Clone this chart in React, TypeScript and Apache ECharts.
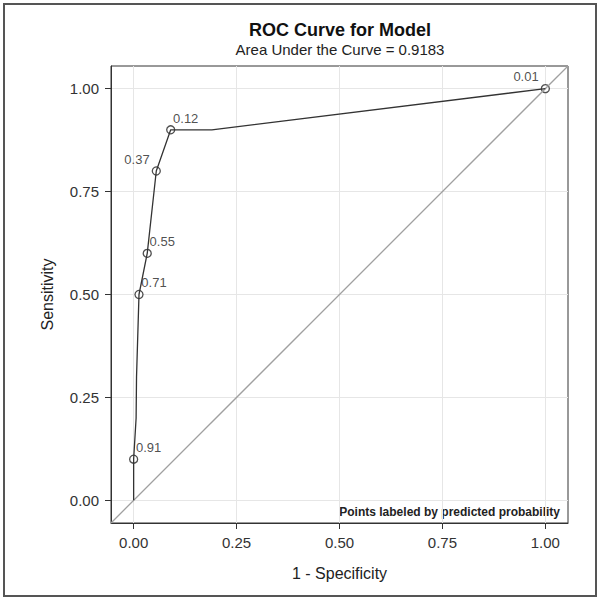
import React, { useEffect, useRef } from "react";
import * as echarts from "echarts";

// ROC curve points (1 - specificity, sensitivity)
const fpr = [0, 0, 0.006, 0.007, 0.013, 0.033, 0.055, 0.09, 0.19, 1.0];
const tpr = [0, 0.1, 0.2, 0.3, 0.5, 0.6, 0.8, 0.9, 0.9, 1.0];

// labeled points (predicted probability cut-offs)
const labelProb = ["0.91", "0.71", "0.55", "0.37", "0.12", "0.01"];
const labelFpr = [0, 0.013, 0.033, 0.055, 0.09, 1.0];
const labelTpr = [0.1, 0.5, 0.6, 0.8, 0.9, 1.0];
const labelLeftSide = [false, false, false, true, false, true];

const tickValues = [0, 0.25, 0.5, 0.75, 1.0];
const axisMin = -0.055;
const axisMax = 1.055;

const titleText = "ROC Curve for Model";
const subtitleText = "Area Under the Curve = 0.9183";
const footnoteText = "Points labeled by predicted probability";
const xName = "1 - Specificity";
const yName = "Sensitivity";

const FONT = "'Liberation Sans', Arial, Helvetica, sans-serif";

export default function App() {
  const ref = useRef<HTMLDivElement>(null);

  useEffect(() => {
    if (!ref.current) return;
    const chart = echarts.init(ref.current, undefined, { renderer: "svg" });

    const curve = fpr.map((x, i) => [x, tpr[i]]);
    const labeled = labelProb.map((p, i) => ({
      value: [labelFpr[i], labelTpr[i]],
      name: p,
      label: labelLeftSide[i]
        ? { position: [-2, -7], align: "right" }
        : { position: [7, -7], align: "left" },
    }));

    const axisCommon = (name: string) => ({
      type: "value",
      min: axisMin,
      max: axisMax,
      name,
      nameLocation: "middle",
      nameTextStyle: { fontFamily: FONT, fontSize: 16, color: "#222" },
      axisLine: { show: true, onZero: false, lineStyle: { color: "#333", width: 1 } },
      axisTick: {
        show: true,
        length: 6,
        customValues: tickValues,
        lineStyle: { color: "#333", width: 1 },
      },
      axisLabel: {
        customValues: tickValues,
        formatter: (v: number) => v.toFixed(2),
        fontFamily: FONT,
        fontSize: 15,
        color: "#333",
        margin: 12,
      },
      splitLine: { show: true, lineStyle: { color: "#e6e6e6", width: 1 } },
    });

    chart.setOption({
      animation: false,
      backgroundColor: "#ffffff",
      grid: {
        left: 111,
        top: 66,
        width: 457,
        height: 457,
        show: true,
        borderColor: "#333",
        borderWidth: 1,
        backgroundColor: "transparent",
      },
      xAxis: { ...axisCommon(xName), nameGap: 42 },
      yAxis: { ...axisCommon(yName), nameGap: 56, nameRotate: 90 },
      graphic: [
        {
          type: "rect",
          shape: { x: 4, y: 4, width: 592, height: 592 },
          style: { fill: "none", stroke: "#555", lineWidth: 2 },
          silent: true,
        },
        {
          type: "text",
          x: 340,
          y: 30,
          style: {
            text: titleText,
            fontFamily: FONT,
            fontSize: 18,
            fontWeight: "bold",
            fill: "#111",
            align: "center",
            verticalAlign: "middle",
          },
        },
        {
          type: "text",
          x: 340,
          y: 49,
          style: {
            text: subtitleText,
            fontFamily: FONT,
            fontSize: 15,
            fill: "#222",
            align: "center",
            verticalAlign: "middle",
          },
        },
        {
          type: "text",
          x: 560,
          y: 512,
          style: {
            text: footnoteText,
            fontFamily: FONT,
            fontSize: 12,
            fontWeight: "bold",
            fill: "#222",
            align: "right",
            verticalAlign: "middle",
          },
        },
      ],
      series: [
        {
          type: "line",
          data: [
            [axisMin, axisMin],
            [axisMax, axisMax],
          ],
          symbol: "none",
          silent: true,
          lineStyle: { color: "#a0a0a0", width: 1.3 },
        },
        {
          type: "line",
          data: curve,
          symbol: "none",
          silent: true,
          lineStyle: { color: "#333", width: 1.3 },
        },
        {
          type: "scatter",
          data: labeled,
          symbol: "circle",
          symbolSize: 8,
          silent: true,
          itemStyle: { color: "#ffffff", borderColor: "#222", borderWidth: 1.3 },
          label: {
            show: true,
            formatter: (p: any) => p.name,
            fontFamily: FONT,
            fontSize: 13,
            color: "#222",
            verticalAlign: "middle",
          },
        },
      ],
    });

    return () => chart.dispose();
  }, []);

  return (
    <div
      ref={ref}
      style={{ position: "absolute", left: 0, top: 0, width: 602, height: 602, background: "#fff" }}
    />
  );
}
